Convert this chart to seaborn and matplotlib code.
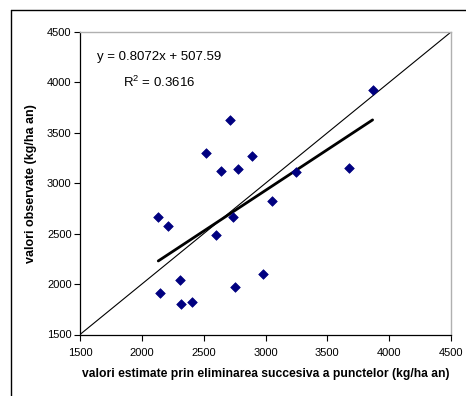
import numpy as np
import pandas as pd
import seaborn as sns
import matplotlib.pyplot as plt
from matplotlib.lines import Line2D

# valori
estimate = [3866, 2710, 2516, 2890, 2637, 2780, 3246, 3055, 2133, 2737,
            2209, 2602, 2977, 2311, 2756, 2149, 2319, 2405, 3677]
observate = [3925, 3630, 3298, 3275, 3126, 3140, 3116, 2822, 2670, 2670,
             2580, 2487, 2104, 2044, 1974, 1908, 1806, 1825, 3150]
panta = 0.8072
intercept = 507.59
r2 = 0.3616
ticks = [1500, 2000, 2500, 3000, 3500, 4000, 4500]

df = pd.DataFrame({'x': estimate, 'y': observate})

sns.set_style('white')
plt.rcParams['font.family'] = ['Liberation Sans', 'DejaVu Sans']
plt.rcParams['text.color'] = 'black'
plt.rcParams['axes.labelcolor'] = 'black'

fig = plt.figure(figsize=(4.66, 3.96), dpi=100)
ax = fig.add_axes([80/466, 1-334.5/396, 371/466, 302.5/396])

# linia 1:1
ax.plot([ticks[0], ticks[-1]], [ticks[0], ticks[-1]], color='black', lw=0.8, zorder=1)

# dreapta de regresie
xr = np.array([min(estimate), max(estimate)])
ax.plot(xr, panta * xr + intercept, color='black', lw=2, zorder=2)

sns.scatterplot(data=df, x='x', y='y', marker='D', color='#000080', s=24,
                edgecolor='#000080', linewidth=0.5, ax=ax, zorder=3)

ax.set_xlim(1500, 4500)
ax.set_ylim(1500, 4500)
ax.set_xticks(ticks)
ax.set_yticks(ticks)
ax.tick_params(axis='both', direction='out', length=4, width=0.8, labelsize=8,
               bottom=True, left=True, colors='black', pad=2)
ax.tick_params(axis='x', pad=6)

for s in ['left', 'bottom']:
    ax.spines[s].set_color('black')
    ax.spines[s].set_linewidth(0.9)
for s in ['top', 'right']:
    ax.spines[s].set_color('#b0b0b0')
    ax.spines[s].set_linewidth(1.0)

ax.set_xlabel('valori estimate prin eliminarea succesiva a punctelor (kg/ha an)',
              fontsize=8.7, fontweight='bold', labelpad=7)
ax.set_ylabel('valori observate (kg/ha an)', fontsize=9, fontweight='bold', labelpad=7)

ax.text(2139, 4252, 'y = 0.8072x + 507.59', ha='center', va='center', fontsize=9.5)
ax.text(2139, 4003, '$\\mathregular{R^2}$ = ' + str(r2), ha='center', va='center', fontsize=9.5)

# chenarul graficului
fig.add_artist(Line2D([11/466, 1], [1-9.5/396, 1-9.5/396], color='black', lw=1,
                      transform=fig.transFigure))
fig.add_artist(Line2D([11/466, 11/466], [0, 1-9.5/396], color='black', lw=1,
                      transform=fig.transFigure))

fig.savefig('out.png', dpi=100)
